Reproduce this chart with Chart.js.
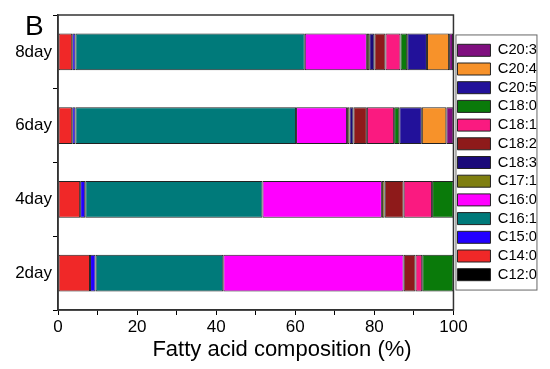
<!DOCTYPE html>
<html>
<head>
<meta charset="utf-8">
<script src="https://cdn.jsdelivr.net/npm/chart.js@4"></script>
<style>
    body { margin: 0; background: #fff; }
</style>
</head>
<body>
<canvas id="graph" width="550" height="369"></canvas>
<script>
// days, top to bottom
const days = ['8day', '6day', '4day', '2day']

// fatty acids, left to right in each bar
const acids = ['C12:0', 'C14:0', 'C15:0', 'C16:1', 'C16:0', 'C17:1', 'C18:3', 'C18:2', 'C18:1', 'C18:0', 'C20:5', 'C20:4', 'C20:3']
const acidColors = ['#000000', '#F02828', '#2200FF', '#007A7A', '#FF00FF', '#7F7F10', '#1A0A7A', '#8E1A1A', '#FA1A80', '#0A7A0A', '#22119A', '#F7922A', '#7F0F7F']

// composition (%) per acid, in the order of days
const c12_0 = [0, 0, 0, 0]
const c14_0 = [3.6, 3.6, 5.6, 8.1]
const c15_0 = [0.8, 0.8, 1.3, 1.4]
const c16_1 = [58.0, 55.8, 44.8, 32.3]
const c16_0 = [15.7, 12.9, 30.2, 45.6]
const c17_1 = [0.6, 0.6, 0.7, 0]
const c18_3 = [1.3, 1.0, 0, 0]
const c18_2 = [2.8, 3.4, 4.8, 3.0]
const c18_1 = [3.8, 6.9, 7.2, 1.7]
const c18_0 = [1.7, 1.3, 5.4, 7.9]
const c20_5 = [5.0, 5.7, 0, 0]
const c20_4 = [5.6, 6.2, 0, 0]
const c20_3 = [1.0, 1.8, 0, 0]
const values = [c12_0, c14_0, c15_0, c16_1, c16_0, c17_1, c18_3, c18_2, c18_1, c18_0, c20_5, c20_4, c20_3]

const xTicks = [0, 20, 40, 60, 80, 100]

const font = 'Liberation Sans, Arial, sans-serif'

// frame, legend box, panel letter and axis title
const extras = {
    id: 'extras',
    afterDraw(chart) {
        const c = chart.ctx
        const a = chart.chartArea
        c.save()
        c.strokeStyle = '#333'
        c.lineWidth = 1.5
        c.strokeRect(a.left, a.top, a.right - a.left, a.bottom - a.top)

        const boxes = chart.legend.legendHitBoxes
        if (boxes.length) {
            const first = boxes[0]
            const last = boxes[boxes.length - 1]
            c.strokeStyle = '#666'
            c.lineWidth = 1
            c.strokeRect(first.left - 1.5, first.top - 8, 81, last.top + last.height + 8 - (first.top - 8))
        }

        c.fillStyle = '#000'
        c.font = '28px ' + font
        c.textAlign = 'left'
        c.textBaseline = 'alphabetic'
        c.fillText('B', 25, 35)

        c.font = '22px ' + font
        c.textAlign = 'center'
        c.textBaseline = 'middle'
        c.fillText('Fatty acid composition (%)', 282, 350)
        c.restore()
    }
}

let ctx = document.getElementById('graph').getContext('2d')
new Chart(ctx, {
    type: 'bar',
    data: {
        labels: days,
        datasets: acids.map((name, i) => ({
            label: name,
            data: values[i],
            backgroundColor: acidColors[i],
            borderColor: '#222',
            borderWidth: 1,
            borderSkipped: false,
            categoryPercentage: 1,
            barPercentage: 0.5
        }))
    },
    options: {
        indexAxis: 'y',
        responsive: false,
        animation: false,
        layout: {
            padding: { top: 15, right: 3, left: 0, bottom: 0 }
        },
        plugins: {
            tooltip: { enabled: false },
            legend: {
                position: 'right',
                fullSize: false,
                reverse: true,
                labels: {
                    boxWidth: 33,
                    boxHeight: 12,
                    padding: 4,
                    color: '#000',
                    font: { family: font, size: 14.7 }
                }
            }
        },
        scales: {
            x: {
                stacked: true,
                min: 0,
                max: 100,
                afterFit: (scale) => { scale.height = 59 },
                border: { display: true, color: '#333', width: 1.5 },
                grid: { drawOnChartArea: false, drawTicks: true, tickLength: 5, color: '#000' },
                ticks: {
                    stepSize: 10,
                    padding: 2,
                    color: '#000',
                    font: { family: font, size: 17 },
                    callback: (v) => xTicks.includes(v) ? v : ''
                }
            },
            y: {
                stacked: true,
                afterFit: (scale) => { scale.width = 58 },
                border: { display: true, color: '#333', width: 1.5 },
                grid: { offset: true, drawOnChartArea: false, drawTicks: true, tickLength: 5, color: '#000' },
                ticks: {
                    padding: 1,
                    color: '#000',
                    font: { family: font, size: 17 }
                }
            }
        }
    },
    plugins: [extras]
});
</script>
</body>
</html>
